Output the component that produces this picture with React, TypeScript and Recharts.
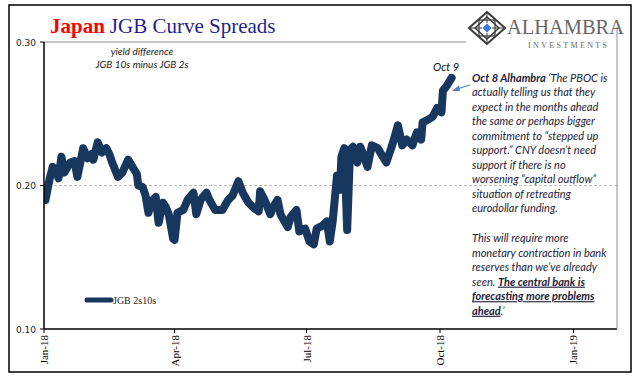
import React from "react";
import { LineChart, Line, XAxis, YAxis, ReferenceLine } from "recharts";

const dates = [
  "2018-01-02","2018-01-03","2018-01-05","2018-01-07","2018-01-09","2018-01-11","2018-01-13","2018-01-15",
  "2018-01-19","2018-01-22","2018-01-24","2018-01-28","2018-01-31","2018-02-03","2018-02-04","2018-02-07",
  "2018-02-10","2018-02-13","2018-02-15","2018-02-17","2018-02-21","2018-02-24","2018-02-28","2018-03-03",
  "2018-03-06","2018-03-07","2018-03-10","2018-03-12","2018-03-14","2018-03-16","2018-03-19","2018-03-21",
  "2018-03-24","2018-03-26","2018-03-28","2018-03-31","2018-04-01","2018-04-03","2018-04-07","2018-04-10",
  "2018-04-14","2018-04-16","2018-04-19","2018-04-23","2018-04-25","2018-04-29","2018-05-04","2018-05-08",
  "2018-05-11","2018-05-15","2018-05-18","2018-05-22","2018-05-26","2018-05-29","2018-05-30","2018-06-02",
  "2018-06-06","2018-06-08","2018-06-11","2018-06-13","2018-06-18","2018-06-20","2018-06-24","2018-06-26",
  "2018-06-30","2018-07-03","2018-07-06","2018-07-08","2018-07-12","2018-07-15","2018-07-17","2018-07-19",
  "2018-07-22","2018-07-24","2018-07-25","2018-07-27","2018-07-29","2018-07-31","2018-08-02","2018-08-05",
  "2018-08-07","2018-08-09","2018-08-12","2018-08-15","2018-08-19","2018-08-22","2018-08-25","2018-08-29",
  "2018-09-02","2018-09-05","2018-09-08","2018-09-12","2018-09-15","2018-09-18","2018-09-19","2018-09-23",
  "2018-09-26","2018-09-29","2018-10-02","2018-10-03","2018-10-06","2018-10-09"
];

const spread = [
  0.190,0.195,0.205,0.213,0.211,0.205,0.220,0.209,
  0.216,0.217,0.206,0.226,0.219,0.222,0.218,0.230,
  0.223,0.226,0.222,0.216,0.206,0.209,0.218,0.213,
  0.208,0.200,0.199,0.193,0.181,0.189,0.192,0.174,
  0.188,0.185,0.180,0.163,0.162,0.181,0.183,0.190,
  0.195,0.180,0.190,0.195,0.190,0.183,0.183,0.190,
  0.193,0.203,0.195,0.188,0.184,0.182,0.196,0.190,
  0.180,0.185,0.190,0.180,0.171,0.178,0.183,0.168,
  0.170,0.161,0.159,0.170,0.172,0.175,0.161,0.175,
  0.207,0.197,0.220,0.226,0.169,0.225,0.227,0.216,
  0.227,0.222,0.213,0.228,0.226,0.221,0.216,0.228,
  0.242,0.228,0.232,0.228,0.237,0.232,0.244,0.246,
  0.248,0.254,0.251,0.266,0.270,0.275
];

const xTickDates = ["2018-01-01","2018-04-01","2018-07-01","2018-10-01","2019-01-01"];
const xTickLabels = ["Jan-18","Apr-18","Jul-18","Oct-18","Jan-19"];
const yTicks = [0.1, 0.2, 0.3];
const seriesName = "JGB 2s10s";

const data = dates.map((d, i) => ({ t: Date.parse(d), v: spread[i] }));
const xTicks = xTickDates.map((d) => Date.parse(d));
const xMin = Date.parse("2018-01-01");
const xMax = Date.parse("2019-01-31");
const topLineEnd = Date.parse("2018-10-19");

const NAVY = "#17375E";

const XTick = (props: any) => {
  const { x, y, payload } = props;
  const i = xTicks.indexOf(payload.value);
  return (
    <text
      x={0}
      y={0}
      transform={`translate(${x + 4},${y + 0}) rotate(-90)`}
      textAnchor="end"
      fontFamily="Liberation Serif"
      fontSize={11}
      fill="#000"
    >
      {i >= 0 ? xTickLabels[i] : ""}
    </text>
  );
};

const YTick = (props: any) => {
  const { x, y, payload } = props;
  return (
    <text x={x} y={y + 3.5} textAnchor="end" fontFamily="DejaVu Sans" fontSize={9} fill="#222">
      {payload.value.toFixed(2)}
    </text>
  );
};

const annot = {
  fontFamily: "Lato",
  fontSize: 11,
  fontStyle: "italic" as const,
  fill: "#1c1c3a",
};

const lines1 = [
  "actually telling us that they",
  "expect in the months ahead",
  "the same or perhaps bigger",
  "commitment to \u201cstepped up",
  "support.\u201d CNY doesn\u2019t need",
  "support if there is no",
  "worsening \u201ccapital outflow\u201d",
  "situation of retreating",
  "eurodollar funding.",
];

const lines2 = [
  "This will require more",
  "monetary contraction in bank",
  "reserves than we\u2019ve already",
];

export default function App() {
  const step = 14.55;
  const base1 = 81.5;
  const base2 = 242;
  return (
    <div style={{ position: "absolute", left: 0, top: 0, width: 640, height: 380, background: "#fff" }}>
      <LineChart
        width={640}
        height={380}
        data={data}
        margin={{ top: 42, right: 23, left: 0, bottom: 0 }}
      >
        <XAxis
          dataKey="t"
          type="number"
          domain={[xMin, xMax]}
          ticks={xTicks}
          tick={<XTick />}
          tickSize={4}
          tickMargin={2}
          height={51}
          interval={0}
          allowDataOverflow
          axisLine={{ stroke: "#000", strokeWidth: 1.5 }}
          tickLine={{ stroke: "#000" }}
        />
        <YAxis
          type="number"
          domain={[0.1, 0.3]}
          ticks={yTicks}
          tick={<YTick />}
          tickSize={4}
          tickMargin={4}
          width={44}
          interval={0}
          axisLine={{ stroke: "#000", strokeWidth: 1.5 }}
          tickLine={{ stroke: "#000" }}
        />
        <ReferenceLine y={0.2} stroke="#bdbdbd" strokeDasharray="3 2" strokeWidth={1} />
        <ReferenceLine
          segment={[{ x: xMin, y: 0.3 }, { x: topLineEnd, y: 0.3 }]}
          stroke="#8c8c8c"
          strokeWidth={1}
        />
        <Line
          type="linear"
          dataKey="v"
          name={seriesName}
          stroke={NAVY}
          strokeWidth={8}
          strokeLinejoin="round"
          strokeLinecap="round"
          dot={false}
          isAnimationActive={false}
        />
      </LineChart>
      <svg
        width={640}
        height={380}
        style={{ position: "absolute", left: 0, top: 0, pointerEvents: "none" }}
      >
        <rect x={9} y={5} width={622} height={367} fill="none" stroke="#000" strokeWidth={1.5} />
        <line x1={617} y1={27} x2={617} y2={329} stroke="#8c8c8c" strokeWidth={1} />
        {/* Title */}
        <text x={50} y={33} fontFamily="Liberation Serif" fontSize={21}>
          <tspan fill="#ff0000" fontWeight="bold">Japan</tspan>
          <tspan fill="#1f1f8a" dx={5}>JGB Curve Spreads</tspan>
        </text>
        {/* Subtitle */}
        <text x={142} y={55} textAnchor="middle" fontFamily="Lato" fontStyle="italic" fontSize={10} fill="#222">
          yield difference
        </text>
        <text x={142} y={68} textAnchor="middle" fontFamily="Lato" fontStyle="italic" fontSize={10} fill="#222">
          JGB 10s minus JGB 2s
        </text>
        {/* Logo */}
        <g transform="translate(487,28)">
          <polygon points="0,-16 18,0 0,16 -18,0" fill="#fff" stroke="#3a3a3a" strokeWidth={2} />
          <polygon points="0,-11 12,0 0,11 -12,0" fill="none" stroke="#3a3a3a" strokeWidth={1.5} />
          <rect x={-8} y={-8} width={16} height={16} fill="none" stroke="#3a3a3a" strokeWidth={1.2} />
          <line x1={-18} y1={0} x2={18} y2={0} stroke="#3a3a3a" strokeWidth={1} />
          <line x1={0} y1={-16} x2={0} y2={16} stroke="#3a3a3a" strokeWidth={1} />
          <polygon points="0,-5 5,0 0,5 -5,0" fill="#3b7ddd" stroke="#fff" strokeWidth={0.8} />
        </g>
        <text x={507} y={34} fontFamily="Liberation Serif" fontSize={22} fill="#666" textLength={117} lengthAdjust="spacingAndGlyphs">
          ALHAMBRA
        </text>
        <text x={528} y={48} fontFamily="Liberation Serif" fontSize={8} fill="#666" textLength={79} lengthAdjust="spacing">
          INVESTMENTS
        </text>
        {/* Oct 9 label and arrow */}
        <text x={433} y={71} {...annot} fill="#111">Oct 9</text>
        <line x1={470} y1={85} x2={457} y2={89} stroke="#4f81bd" strokeWidth={1.2} />
        <polygon points="452,91 459,85.5 460,91" fill="#4f81bd" />
        {/* Annotation text */}
        <text x={472} y={base1} {...annot}>
          <tspan fontWeight="bold">Oct 8 Alhambra</tspan>
          <tspan>{"  \u2018The PBOC is"}</tspan>
        </text>
        {lines1.map((s, i) => (
          <text key={"a" + i} x={472} y={base1 + step * (i + 1)} {...annot}>
            {s}
          </text>
        ))}
        {lines2.map((s, i) => (
          <text key={"b" + i} x={472} y={base2 + step * i} {...annot}>
            {s}
          </text>
        ))}
        <text x={472} y={base2 + step * 3} {...annot}>
          <tspan>{"seen. "}</tspan>
          <tspan fontWeight="bold" textDecoration="underline">The central bank is</tspan>
        </text>
        <text x={472} y={base2 + step * 4} {...annot} fontWeight="bold" textDecoration="underline">
          forecasting more problems
        </text>
        <text x={472} y={base2 + step * 5} {...annot}>
          <tspan fontWeight="bold" textDecoration="underline">ahead</tspan>
          <tspan>{".\u2019"}</tspan>
        </text>
        {/* Legend */}
        <line x1={87} y1={300} x2={111} y2={300} stroke={NAVY} strokeWidth={5} strokeLinecap="round" />
        <text x={113} y={303.5} fontFamily="Liberation Serif" fontSize={10} fill="#222">
          {seriesName}
        </text>
      </svg>
    </div>
  );
}
